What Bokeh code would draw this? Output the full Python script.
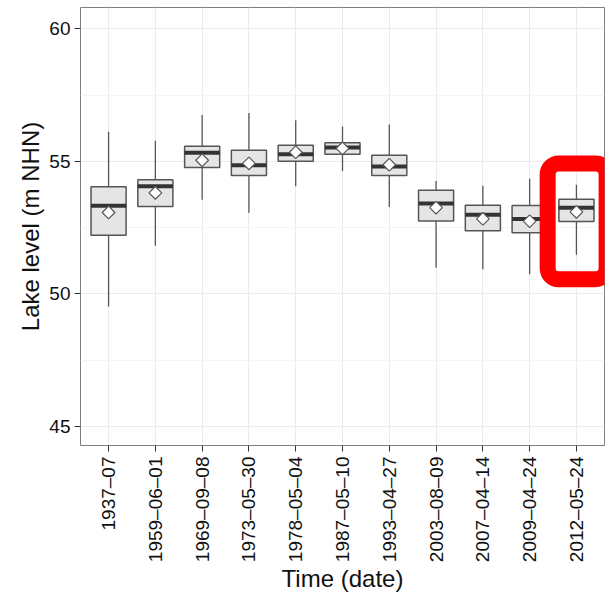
import math
from bokeh.plotting import figure
from bokeh.models import (FactorRange, Range1d, FixedTicker, ColumnDataSource,
                          BoxAnnotation)
from bokeh.embed import file_html
from bokeh.resources import INLINE

# ---- data ----
dates = ["1937–07", "1959–06–01", "1969–09–08", "1973–05–30", "1978–05–04",
         "1987–05–10", "1993–04–27", "2003–08–09", "2007–04–14", "2009–04–24",
         "2012–05–24"]
whisker_low = [49.52, 51.81, 53.55, 53.06, 54.06, 54.63, 53.28, 50.98, 50.93, 50.74, 51.47]
q1 = [52.21, 53.29, 54.77, 54.46, 55.00, 55.27, 54.46, 52.75, 52.38, 52.30, 52.73]
median = [53.32, 54.06, 55.32, 54.85, 55.27, 55.52, 54.80, 53.41, 52.98, 52.82, 53.25]
q3 = [54.04, 54.30, 55.57, 55.42, 55.61, 55.70, 55.23, 53.91, 53.34, 53.33, 53.57]
whisker_high = [56.12, 55.78, 56.75, 56.82, 56.55, 56.31, 56.39, 54.26, 54.08, 54.34, 54.12]
mean = [53.07, 53.81, 55.04, 54.92, 55.34, 55.49, 54.87, 53.25, 52.83, 52.74, 53.09]
y_ticks = [45, 50, 55, 60]
y_minor_ticks = [47.5, 52.5, 57.5]
y_limits = (44.276, 60.804)
highlight_y = (50.55, 54.92)

FONT = "Liberation Sans"
TEXT = "#111111"

src = ColumnDataSource(dict(date=dates, lo=whisker_low, q1=q1, med=median,
                            q3=q3, hi=whisker_high, mean=mean))

p = figure(x_range=FactorRange(factors=dates, range_padding=0.1,
                               range_padding_units="absolute"),
           y_range=Range1d(*y_limits),
           frame_width=524, frame_height=438,
           min_border_left=80, min_border_right=2,
           min_border_top=7, min_border_bottom=147,
           output_backend="svg", toolbar_location=None)

p.background_fill_color = "white"
p.border_fill_color = "white"
p.outline_line_color = "#7f7f7f"
p.outline_line_width = 1

# whiskers
p.segment(x0="date", y0="lo", x1="date", y1="hi", source=src,
          line_color="#555555", line_width=1.3)
# boxes
p.vbar(x="date", width=0.75, bottom="q1", top="q3", source=src,
       fill_color="#e5e5e5", line_color="#555555", line_width=1.5)
# medians
p.rect(x="date", y="med", width=0.75, height=4, height_units="screen",
       source=src, fill_color="#333333", line_color=None)
# means
p.scatter(x="date", y="mean", marker="square", angle=math.pi / 4, size=9,
          source=src, fill_color="white", line_color="#555555", line_width=1.2)

# axes
ticker = FixedTicker(ticks=y_ticks, minor_ticks=y_minor_ticks)
p.yaxis.ticker = ticker
p.ygrid.ticker = ticker
for ax in (p.xaxis[0], p.yaxis[0]):
    ax.axis_line_color = None
    ax.major_tick_line_color = "#333333"
    ax.major_tick_in = 0
    ax.major_tick_out = 6
    ax.minor_tick_line_color = None
    ax.major_label_text_font = FONT
    ax.major_label_text_font_size = "19px"
    ax.major_label_text_color = TEXT
    ax.axis_label_text_font = FONT
    ax.axis_label_text_font_size = "24px"
    ax.axis_label_text_font_style = "normal"
    ax.axis_label_text_color = TEXT

p.yaxis.axis_label = "Lake level (m NHN)"
p.yaxis.major_label_standoff = 4
p.yaxis.axis_label_standoff = 2

p.xaxis.axis_label = "Time (date)"
p.xaxis.major_label_orientation = math.pi / 2
p.xaxis.major_label_standoff = 5
p.xaxis.axis_label_standoff = 0
# centre the shorter label against the longer ones (labels are end-aligned)
longest = max(len(d) for d in dates)
p.xaxis.major_label_overrides = {
    d: d + "\u2007" * ((longest - len(d)) // 2) + "\u2008" * ((longest - len(d)) % 2)
    for d in dates if len(d) < longest
}

# grid
p.xgrid.grid_line_color = "#ebebeb"
p.ygrid.grid_line_color = "#ebebeb"
p.ygrid.minor_grid_line_color = "#f5f5f5"

# highlight around last box
n = len(dates)
hl = BoxAnnotation(left=n - 1.115, right=n + 0.145,
                   bottom=highlight_y[0], top=highlight_y[1],
                   fill_color=None, fill_alpha=0,
                   line_color="#ff0000", line_alpha=1.0, line_width=16,
                   border_radius=11)
p.add_layout(hl)

open("out.html", "w").write(file_html(p, INLINE))
